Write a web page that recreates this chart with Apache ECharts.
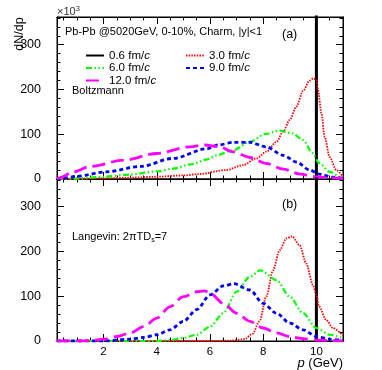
<!DOCTYPE html>
<html>
<head>
<meta charset="utf-8">
<script src="https://cdn.jsdelivr.net/npm/echarts@6/dist/echarts.min.js"></script>
<style>
html,body{margin:0;padding:0;background:#fff;}
#chart{width:382px;height:370px;}
</style>
</head>
<body>
<div id="chart"></div>
<script>
// tick positions
const xMajor = [2, 4, 6, 8, 10];
const xMinor = [0.5, 1, 1.5, 2.5, 3, 3.5, 4.5, 5, 5.5, 6.5, 7, 7.5, 8.5, 9, 9.5, 10.5];
const yMajor = [0, 100, 200, 300];
const yMinor = [20, 40, 60, 80, 120, 140, 160, 180, 220, 240, 260, 280, 320, 340, 360];

// 0.6 fm/c : initial spike at p = 10 GeV (off scale)
const pInit = [10, 10];
const nInit = [0, 5000];

// (a) Boltzmann
const pRedB = [0.25, 1, 2, 3, 4, 5, 5.6, 6.6, 7.24, 7.74, 8.12, 8.5, 8.75, 9, 9.25, 9.5, 9.75, 9.88, 10, 10.06, 10.19, 10.31, 10.5, 10.75, 11];
const redB  = [0, 0.5, 1.5, 3, 5, 8, 11, 20, 31, 46, 61, 83, 106, 132, 162, 197, 220, 225, 222, 199, 147, 94, 49, 20, 4];
const pGreenB = [0.25, 1, 2, 3, 4, 4.6, 5.3, 5.9, 6.25, 6.85, 7.5, 8.1, 8.6, 9.1, 9.5, 9.85, 10.1, 10.5, 10.9, 11];
const greenB  = [0, 1, 5, 10, 17, 23, 33, 44, 53, 64, 83, 101, 108, 102, 87, 58, 36, 16, 5, 4];
const pBlueB = [0.25, 0.5, 1, 2.1, 3.4, 4.6, 5.9, 6.3, 6.9, 7.5, 8.1, 8.75, 9.25, 9.75, 10.1, 10.6, 11];
const blueB  = [0, 2, 6, 16, 28, 46, 68, 76, 82, 82, 72, 53, 38, 20, 11, 4, 2];
const pMagB = [0.25, 0.36, 0.86, 1.5, 2.75, 4, 5.25, 5.8, 6.35, 6.85, 7.5, 8.1, 8.75, 9.4, 9.9, 10.4, 11];
const magB  = [0, 3, 16, 28, 42, 57, 72, 76, 72, 61, 48, 35, 22, 11, 5, 3, 1];

// (b) Langevin
const pRedL = [0.25, 6, 6.8, 7.3, 7.6, 7.86, 8.12, 8.37, 8.62, 8.87, 9.08, 9.37, 9.62, 9.87, 10, 10.1, 10.37, 10.62, 11];
const redL  = [0, 0, 1, 4, 16, 44, 100, 158, 203, 229, 234, 214, 173, 125, 103, 77, 47, 29, 12];
const pGreenL = [0.25, 4, 4.5, 5, 5.5, 6, 6.5, 7, 7.5, 7.9, 8.5, 9, 9.5, 10, 10.5, 11];
const greenL  = [0, 0, 2, 7, 14, 32, 62, 110, 144, 158, 136, 99, 62, 29, 14, 6];
const pBlueL = [0.25, 2, 3, 3.5, 4, 4.5, 5, 5.5, 6, 6.5, 6.9, 7.5, 8, 8.5, 9, 9.5, 10, 10.5, 11];
const blueL  = [0, 0, 4, 8, 14, 25, 44, 70, 103, 123, 128, 114, 84, 62, 40, 25, 10, 4, 1];
const pMagL = [0.25, 1, 1.5, 2, 2.5, 3, 3.5, 4, 4.5, 5, 5.5, 5.8, 6, 6.5, 7, 7.5, 8, 8.5, 9, 9.5, 10, 11];
const magL  = [0, 0, 1, 4, 10, 18, 32, 51, 77, 99, 110, 112, 107, 84, 62, 44, 29, 18, 10, 5, 2, 0];

const FONT = 'Liberation Sans, Helvetica, Arial, sans-serif';

const styles = {
  '0.6 fm/c':  {color: '#000000', width: 3,   type: 'solid'},
  '3.0 fm/c':  {color: '#ff0000', width: 1.8, type: [1.5, 1.2]},
  '6.0 fm/c':  {color: '#00ff00', width: 2.2, type: [6, 2.5, 1.5, 2.5, 1.5, 2.5]},
  '9.0 fm/c':  {color: '#0000ff', width: 2.8, type: [4, 3]},
  '12.0 fm/c': {color: '#ff00ff', width: 2.8, type: [13, 6]}
};

const zip = (xs, ys) => xs.map((x, i) => [x, ys[i]]);

function line(name, xs, ys, panel) {
  const s = styles[name];
  return {
    name: name, type: 'line',
    xAxisIndex: panel * 4, yAxisIndex: panel * 4,
    data: zip(xs, ys),
    symbol: 'none', showSymbol: false,
    smooth: name === '0.6 fm/c' ? false : 0.3,
    smoothMonotone: 'x',
    clip: true,
    color: s.color,
    lineStyle: {color: s.color, width: s.width, type: s.type, cap: 'butt'}
  };
}

function xAx(grid, pos, ticks, len, labels) {
  return {
    type: 'value', gridIndex: grid, position: pos, min: 0.25, max: 11,
    axisLine: {show: true, onZero: false, lineStyle: {color: '#000', width: 1}},
    axisTick: {show: true, inside: true, length: len, customValues: ticks, lineStyle: {color: '#000', width: 1}},
    axisLabel: {show: labels, customValues: ticks, color: '#000', fontSize: 11.5, fontFamily: FONT, margin: 5},
    splitLine: {show: false}
  };
}

function yAx(grid, pos, ticks, len, labels) {
  return {
    type: 'value', gridIndex: grid, position: pos, min: 0, max: 362,
    axisLine: {show: true, onZero: false, lineStyle: {color: '#000', width: 1}},
    axisTick: {show: true, inside: true, length: len, customValues: ticks, lineStyle: {color: '#000', width: 1}},
    axisLabel: {show: labels, customValues: ticks, color: '#000', fontSize: 12.5, fontFamily: FONT, margin: 16},
    splitLine: {show: false}
  };
}

const xAxes = [], yAxes = [];
[0, 1].forEach(g => {
  xAxes.push(xAx(g, 'bottom', xMajor, 7, g === 1));
  xAxes.push(xAx(g, 'bottom', xMinor, 3.5, false));
  xAxes.push(xAx(g, 'top', xMajor, 7, false));
  xAxes.push(xAx(g, 'top', xMinor, 3.5, false));
  yAxes.push(yAx(g, 'left', yMajor, 7, true));
  yAxes.push(yAx(g, 'left', yMinor, 3.5, false));
  yAxes.push(yAx(g, 'right', yMajor, 7, false));
  yAxes.push(yAx(g, 'right', yMinor, 3.5, false));
});

const series = [
  line('0.6 fm/c', pInit, nInit, 0),
  line('3.0 fm/c', pRedB, redB, 0),
  line('6.0 fm/c', pGreenB, greenB, 0),
  line('9.0 fm/c', pBlueB, blueB, 0),
  line('12.0 fm/c', pMagB, magB, 0),
  line('0.6 fm/c', pInit, nInit, 1),
  line('3.0 fm/c', pRedL, redL, 1),
  line('6.0 fm/c', pGreenL, greenL, 1),
  line('9.0 fm/c', pBlueL, blueL, 1),
  line('12.0 fm/c', pMagL, magL, 1)
];

function legend(left, names) {
  return {
    orient: 'vertical', left: left, top: 44.5,
    data: names, selectedMode: false,
    itemWidth: 18, itemHeight: 10, itemGap: 0.5,
    itemStyle: {opacity: 0},
    formatter: n => n.replace(' fm/c', ' fm/{i|c}'),
    textStyle: {
      color: '#000', fontSize: 11.5, fontFamily: FONT, lineHeight: 11, padding: 0,
      rich: {i: {fontStyle: 'italic', fontSize: 11.5, fontFamily: FONT, color: '#000', lineHeight: 11}}
    }
  };
}

function label(text, x, y, size, extra) {
  return {
    type: 'text', x: x, y: y, silent: true,
    style: Object.assign({text: text, fill: '#000', fontSize: size, fontFamily: FONT,
      align: 'left', verticalAlign: 'middle'}, extra || {})
  };
}

const chart = echarts.init(document.getElementById('chart'));
chart.setOption({
  animation: false,
  backgroundColor: '#fff',
  grid: [
    {left: 57, top: 17, width: 286, height: 162, show: true, borderColor: '#000', borderWidth: 1, containLabel: false},
    {left: 57, top: 179, width: 286, height: 162, show: true, borderColor: '#000', borderWidth: 1, containLabel: false}
  ],
  xAxis: xAxes,
  yAxis: yAxes,
  legend: [
    legend(80, ['0.6 fm/c', '6.0 fm/c', '12.0 fm/c']),
    legend(180, ['3.0 fm/c', '9.0 fm/c'])
  ],
  graphic: [
    label('{t|×10}{s|3}', 57, 12, 11, {fill: '#333', rich: {t: {fontSize: 11, fontFamily: FONT, fill: '#333'}, s: {fontSize: 7.5, fontFamily: FONT, fill: '#333', verticalAlign: 'top', padding: [0, 0, 6, 0]}}}),
    Object.assign(label('dN/dp', 20, 34, 12.5, {align: 'center'}), {rotation: Math.PI / 2}),
    label('Pb-Pb @5020GeV, 0-10%, Charm, |y|<1', 65, 32, 11),
    label('(a)', 282, 35, 12.5),
    label('Boltzmann', 72, 91, 11),
    label('(b)', 282, 205, 12.5),
    label('{t|Langevin: 2\u03c0TD}{s|s}{t|=7}', 72, 237, 11, {rich: {t: {fontSize: 11, fontFamily: FONT}, s: {fontSize: 7, fontFamily: FONT, padding: [6, 0, 0, 0]}}}),
    label('{i|p} (GeV)', 343, 363, 13, {align: 'right', rich: {i: {fontStyle: 'italic', fontSize: 13, fontFamily: FONT}}})
  ],
  series: series
});
</script>
</body>
</html>
